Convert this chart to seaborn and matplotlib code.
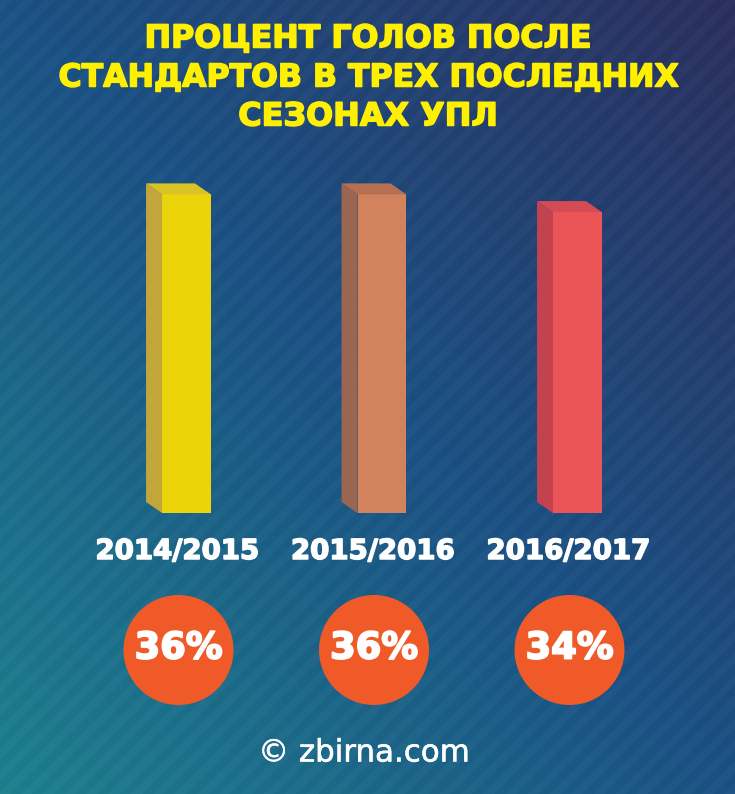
import numpy as np
import pandas as pd
import matplotlib
matplotlib.use('Agg')
import matplotlib.pyplot as plt
import matplotlib.patheffects as pe
import seaborn as sns
from matplotlib.patches import Polygon, Circle

seasons = ['2014/2015', '2015/2016', '2016/2017']
shares = [36, 36, 34]
share_labels = ['36%', '36%', '34%']
title_lines = ['ПРОЦЕНТ ГОЛОВ ПОСЛЕ', 'СТАНДАРТОВ В ТРЕХ ПОСЛЕДНИХ', 'СЕЗОНАХ УПЛ']
source = '© zbirna.com'

front_colors = ['#ecd40a', '#d2825c', '#ec5558']
side_colors = ['#c2a63c', '#9b6651', '#c2434f']
top_colors = ['#d8c226', '#b57054', '#d44b56']
circle_color = '#ef5a28'
title_color = '#fff000'

sns.set_theme(style='white')
plt.rcParams['font.family'] = ['DejaVu Sans']

W, H = 735, 794
fig = plt.figure(figsize=(W / 100, H / 100), dpi=100)
renderer = fig.canvas.get_renderer()


def fit_text(s, xc, yc, width, color, stroke=1.0, **kw):
    # place text centred at pixel (xc, yc from top) and scale it to a target width
    t = fig.text(xc / W, 1 - yc / H, s, ha='center', va='center', fontsize=20,
                 color=color, **kw)
    bb = t.get_window_extent(renderer)
    t.set_fontsize(20 * width / bb.width)
    t.set_path_effects([pe.Stroke(linewidth=stroke, foreground=color), pe.Normal()])
    return t


# background: diagonal gradient with faint stripes
yy, xx = np.mgrid[0:H, 0:W]
t = ((1 - xx / W) + yy / H) / 2
c0 = np.array([0x2a, 0x2e, 0x5c]) / 255
c1 = np.array([0x1a, 0x50, 0x82]) / 255
c2 = np.array([0x1d, 0x7e, 0x8c]) / 255
t3 = t[..., None]
img = np.where(t3 < 0.5, c0 + (c1 - c0) * (t3 / 0.5), c1 + (c2 - c1) * ((t3 - 0.5) / 0.5))
stripes = (np.sin(2 * np.pi * (xx + yy) / 22) > 0).astype(float)
img = np.clip(img + 0.02 * stripes[..., None], 0, 1)
bg = fig.add_axes([0, 0, 1, 1])
bg.imshow(img, aspect='auto', extent=(0, W, 0, H))
bg.axis('off')

ax = fig.add_axes([88.75 / W, 1 - 513 / H, 586.5 / W, 354 / H])
df = pd.DataFrame({'season': seasons, 'share': shares})
sns.barplot(data=df, x='season', y='share', hue='season', palette=front_colors,
            width=0.25, saturation=1, legend=False, linewidth=0, ax=ax)
ax.set_xlim(-0.5, 2.5)
ax.set_ylim(0, 40)
ax.axis('off')
fig.canvas.draw()

# fake 3D: side and top faces, offset in pixels
off = np.array([-16, 11])
for i, p in enumerate(ax.patches):
    x0, y0 = p.get_x(), p.get_y()
    w, h = p.get_width(), p.get_height()
    bl = ax.transData.transform((x0, y0))
    tl = ax.transData.transform((x0, y0 + h))
    tr = ax.transData.transform((x0 + w, y0 + h))
    fig.add_artist(Polygon([bl, tl, tl + off, bl + off], closed=True, transform=None,
                           facecolor=side_colors[i], edgecolor='none'))
    fig.add_artist(Polygon([tl, tr, tr + off, tl + off], closed=True, transform=None,
                           facecolor=top_colors[i], edgecolor='none'))

    cx = (bl[0] + tr[0]) / 2
    fit_text(seasons[i], cx - 9, 551, 164, 'white', stroke=1.1, fontweight='bold')
    fig.add_artist(Circle((cx - 8, H - 650), 55, transform=None,
                          facecolor=circle_color, edgecolor='none'))
    fit_text(share_labels[i], cx - 8, 648, 88, 'white', stroke=1.4, fontweight='bold')

title_widths = [445, 618, 259]
for k, line in enumerate(title_lines):
    fit_text(line, 368, 39 + 39 * k, title_widths[k], title_color, stroke=1.1,
             fontweight='bold')

fit_text(source, 364, 753, 212, 'white', stroke=0.4)

fig.savefig('out.png', dpi=100)
